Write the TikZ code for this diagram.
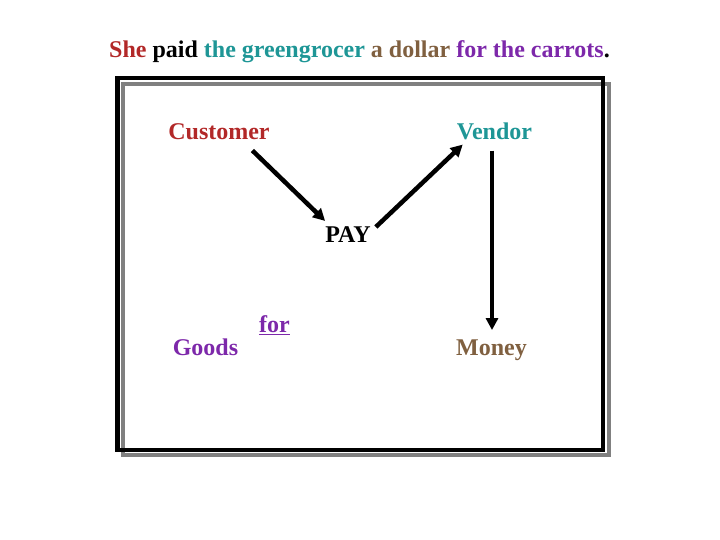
\documentclass[tikz,border=0pt]{standalone}
\usepackage{fontspec}
\setmainfont{Liberation Serif}
\usetikzlibrary{arrows.meta}

\definecolor{shered}{RGB}{178,40,40}
\definecolor{grocerteal}{RGB}{30,150,150}
\definecolor{dollarbrown}{RGB}{128,96,64}
\definecolor{carrotpurple}{RGB}{125,40,170}

\tikzset{
  word/.style={inner sep=0pt, anchor=base, font=\fontsize{24}{28}\selectfont\bfseries},
  pays/.style={line width=4.5pt, -{Triangle[length=12pt,width=12pt]}}
}

\begin{document}
\begin{tikzpicture}[x=1pt,y=1pt]
  \useasboundingbox (0,0) rectangle (720,540);
  \draw[line width=4pt, draw=gray] (122.5,456) rectangle (608.5,85);
  \draw[line width=4.5pt] (117.5,462) rectangle (603,90);
  \node[word] (title) at (359.5,482) {\textcolor{shered}{She} paid \textcolor{grocerteal}{the greengrocer} \textcolor{dollarbrown}{a dollar} \textcolor{carrotpurple}{for the carrots}.};
  \node[word, text=shered] (cust) at (219,400) {Customer};
  \node[word, text=grocerteal] (vend) at (494.5,400) {Vendor};
  \node[word] (pay) at (348,297) {PAY};
  \node[word, text=carrotpurple] (for) at (274.5,207) {for};
  \draw[line width=1.5pt, carrotpurple] ([yshift=-1.5pt]for.base west) -- ([yshift=-1.5pt]for.base east);
  \node[word, text=carrotpurple] (goods) at (205.5,184) {Goods};
  \node[word, text=dollarbrown] (money) at (491.5,184) {Money};
  \draw[pays] ([shift={(-17.5,-10)}]cust.south east) -- ([shift={(0,6)}]pay.north west);
  \draw[pays] ([shift={(5,0)}]pay.north east) -- ([shift={(6,-4)}]vend.south west);
  \draw[pays] ([shift={(-2.5,-10)}]vend.south) -- ([shift={(0.5,10)}]money.north);
\end{tikzpicture}
\end{document}
